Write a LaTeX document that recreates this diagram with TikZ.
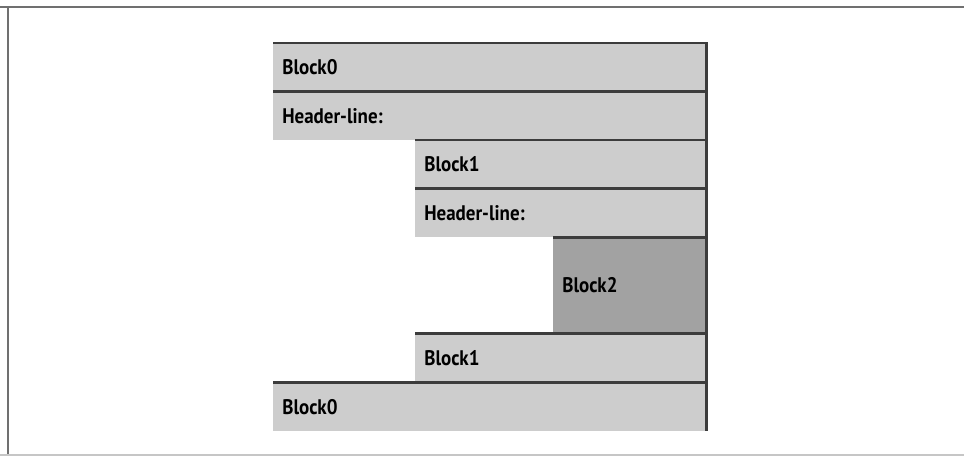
\documentclass[tikz,border=0pt]{standalone}
\usepackage{fontspec}
\setmainfont{PT Sans}
\usetikzlibrary{positioning}
\definecolor{rowgray}{HTML}{CDCDCD}
\definecolor{deepgray}{HTML}{A2A2A2}
\definecolor{edgegray}{HTML}{3C3C3C}
\definecolor{framegray}{HTML}{707070}
\begin{document}
\begin{tikzpicture}[
      row/.style={fill=rowgray, inner xsep=0.225cm, inner ysep=0pt, anchor=north east,
        minimum height=1.2cm, text width=#1, align=left,
        font=\fontsize{15}{17}\selectfont\bfseries\addfontfeatures{FakeStretch=0.9}},
      edge/.style={draw=edgegray, line width=1.9pt},
      frame/.style={draw=framegray, line width=1.6pt}]
    \useasboundingbox (0,0) rectangle (24.1,-11.45);
    % outer frame
    \draw[frame] (0,-0.175) -- (24.1,-0.175);
    \draw[frame] (0.2,-0.175) -- (0.2,-11.375);
    \draw[frame, draw=framegray!40] (0,-11.375) -- (24.1,-11.375);
    % rows
    \node[row=10.375cm, anchor=north west] (b0) at (6.825,-1.075) {Block0};
    \node[row=10.375cm, below=0pt of b0.south east, anchor=north east] (h0) {Header-line:};
    \node[row=6.825cm, below=0pt of h0.south east, anchor=north east] (b1) {Block1};
    \node[row=6.825cm, below=0pt of b1.south east, anchor=north east] (h1) {Header-line:};
    \node[row=3.375cm, below=0pt of h1.south east, anchor=north east, fill=deepgray, minimum height=2.4cm] (b2) {Block2};
    \node[row=6.825cm, below=0pt of b2.south east, anchor=north east] (c1) {Block1};
    \node[row=10.375cm, below=0pt of c1.south east, anchor=north east] (c0) {Block0};
    \foreach \n in {b0,h0,b1,h1,b2,c1,c0}
      \draw[edge] (\n.north west) -- (\n.north east) -- (\n.south east);
  \end{tikzpicture}
\end{document}
